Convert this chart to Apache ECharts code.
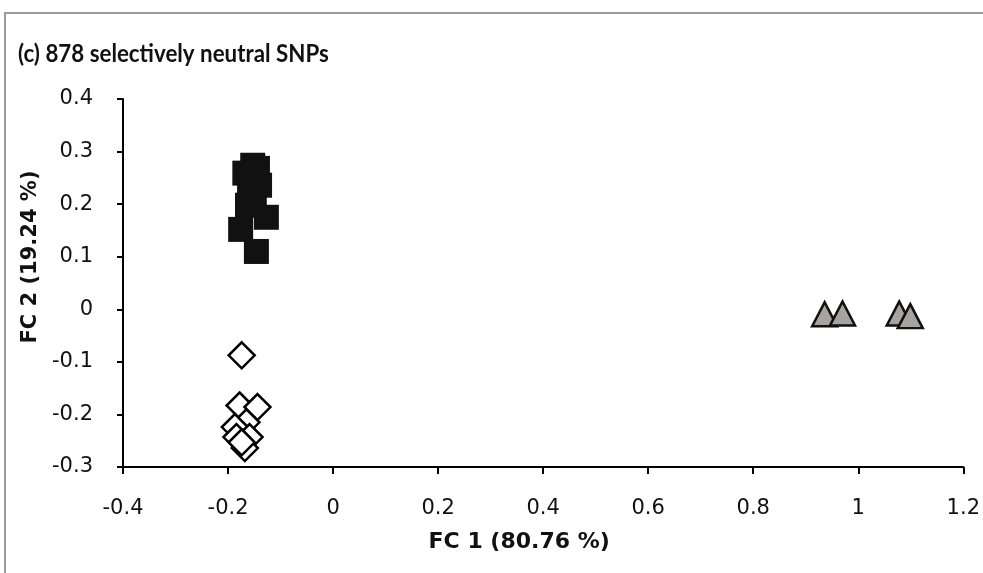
<!DOCTYPE html>
<html><head><meta charset="utf-8">
<script src="https://cdn.jsdelivr.net/npm/echarts@6/dist/echarts.min.js"></script>
<style>html,body{margin:0;padding:0;background:#fff}#c{width:983px;height:573px}</style>
</head><body><div id="c"></div>
<script>
const titleText = "(c) 878 selectively neutral SNPs";
const xName = "FC 1 (80.76 %)";
const yName = "FC 2 (19.24 %)";
// Black squares
const squaresX = [-0.153, -0.144, -0.168, -0.159, -0.150, -0.163, -0.127, -0.176, -0.146, -0.140];
const squaresY = [0.274, 0.268, 0.259, 0.226, 0.207, 0.198, 0.175, 0.152, 0.110, 0.236];
// Open diamonds
const diamondsX = [-0.174, -0.178, -0.144, -0.165, -0.187, -0.159, -0.184, -0.168, -0.174];
const diamondsY = [-0.0875, -0.183, -0.186, -0.215, -0.224, -0.243, -0.243, -0.264, -0.253];
// Grey triangles
const trianglesX = [0.936, 0.970, 1.078, 1.099];
const trianglesY = [-0.0095, -0.008, -0.008, -0.013];

const pairs = (xs, ys) => xs.map((x, i) => [x, ys[i]]);
const FONT = "DejaVu Sans";
const chart = echarts.init(document.getElementById('c'), null, {renderer: 'canvas'});
chart.setOption({
  animation: false,
  backgroundColor: '#fff',
  graphic: [
    {type: 'rect', shape: {x: 5, y: 13, width: 1000, height: 600}, style: {fill: 'none', stroke: '#9a9a9a', lineWidth: 2}},
    {type: 'text', x: 18, y: 42, scaleX: 0.93, style: {text: titleText, font: 'bold 24px Lato', fill: '#111'}}
  ],
  grid: {left: 123, right: 17, top: 99, bottom: 106},
  xAxis: {
    type: 'value', min: -0.4, max: 1.2, interval: 0.2,
    name: xName, nameLocation: 'middle', nameGap: 64,
    nameTextStyle: {fontFamily: FONT, fontWeight: 'bold', fontSize: 22, color: '#111', padding: [0, 48, 0, 0]},
    axisLine: {onZero: false, lineStyle: {color: '#000', width: 2}},
    axisTick: {show: true, length: 7, lineStyle: {color: '#000', width: 2}},
    axisLabel: {fontFamily: FONT, fontSize: 21, color: '#111', margin: 31,
      formatter: v => String(Math.round(v * 10) / 10)},
    splitLine: {show: false}
  },
  yAxis: {
    type: 'value', min: -0.3, max: 0.4, interval: 0.1,
    name: yName, nameLocation: 'middle', nameGap: 74, nameRotate: 90,
    nameTextStyle: {fontFamily: FONT, fontWeight: 'bold', fontSize: 21, color: '#111', padding: [0, 0, 0, 52]},
    axisLine: {show: true, onZero: false, lineStyle: {color: '#000', width: 2}},
    axisTick: {show: true, length: 6, lineStyle: {color: '#000', width: 2}},
    axisLabel: {fontFamily: FONT, fontSize: 21, color: '#111', margin: 30,
      formatter: v => String(Math.round(v * 10) / 10)},
    splitLine: {show: false}
  },
  series: [
    {type: 'scatter', data: pairs(squaresX, squaresY), symbol: 'rect', symbolSize: 25,
      itemStyle: {color: '#111', opacity: 1}},
    {type: 'scatter', data: pairs(diamondsX, diamondsY), symbol: 'diamond', symbolSize: 26,
      itemStyle: {color: '#fff', borderColor: '#000', borderWidth: 2.5, opacity: 1}},
    {type: 'scatter', data: pairs(trianglesX, trianglesY), symbol: 'triangle', symbolSize: [25, 24],
      itemStyle: {color: '#a6a3a3', borderColor: '#111', borderWidth: 2.5, opacity: 1}}
  ]
});
</script></body></html>
